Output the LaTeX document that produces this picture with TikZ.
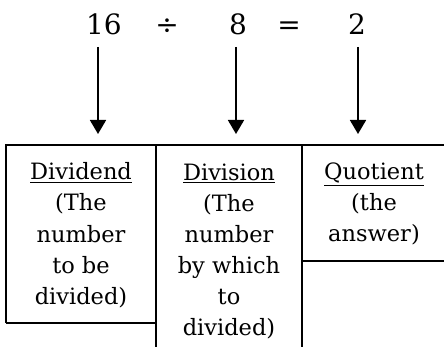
\documentclass[tikz,border=0pt]{standalone}
\usepackage{fontspec}
\setmainfont{DejaVu Serif}
\usetikzlibrary{arrows.meta}

\begin{document}
\begin{tikzpicture}[
  x=1pt, y=-1pt,
  every node/.style={inner sep=0pt},
  eqsym/.style={anchor=base, font=\fontsize{28}{33}\selectfont},
  celltext/.style={anchor=base, align=center, font=\fontsize{22.5}{31}\selectfont},
  downarrow/.style={-{Triangle[width=16pt,length=14pt]}, line width=1.8pt},
  tableline/.style={line width=2pt},
]
\useasboundingbox (0,0) rectangle (444,347);

% the sum
\node[eqsym] (n16) at (104,35) {16};
\node[eqsym] (ndiv) at (167,35) {÷};
\node[eqsym] (n8) at (238,35) {8};
\node[eqsym] (neq) at (289,35) {=};
\node[eqsym] (n2) at (357,35) {2};

% arrow ends
\coordinate (a1) at (98,47);
\coordinate (b1) at (98,134);
\coordinate (a2) at (236,47);
\coordinate (b2) at (236,134);
\coordinate (a3) at (358,47);
\coordinate (b3) at (358,134);

\draw[downarrow] (a1) -- (b1);
\draw[downarrow] (a2) -- (b2);
\draw[downarrow] (a3) -- (b3);

% table
\draw[tableline] (6,323) -- (6,145) -- (448,145);
\draw[tableline] (6,323) -- (156,323);
\draw[tableline] (156,145) -- (156,350);
\draw[tableline] (302,145) -- (302,350);
\draw[tableline] (302,261) -- (448,261);

% cells (base = last line)
\node[celltext] (dividend) at (81,304) {\underline{Dividend}\\(The\\number\\to be\\divided)};
\node[celltext] (division) at (229,335) {\underline{Division}\\(The\\number\\by which\\to\\divided)};
\node[celltext] (quotient) at (374,242) {\underline{Quotient}\\(the\\answer)};

\end{tikzpicture}
\end{document}
